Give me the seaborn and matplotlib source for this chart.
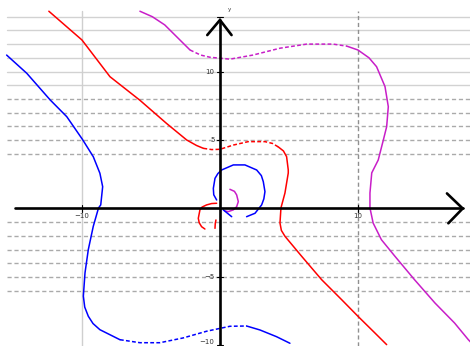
import numpy as np
import pandas as pd
import matplotlib
matplotlib.use("Agg")
import matplotlib.pyplot as plt
import seaborn as sns

sns.set_theme(style="white")
plt.rcParams["font.family"] = ["DejaVu Sans"]

BLUE = "#0000ff"
RED = "#ff0000"
MAGENTA = "#c81ec8"

# ---- curve traces (x, y) -------------------------------------------------
magenta_a_x = [-5.8, -4.9, -4.0, -3.0, -2.17]
magenta_a_y = [14.4, 14.0, 13.4, 12.4, 11.57]
magenta_b_x = [-2.17, -1.4, -0.72, 0.72, 2.39, 4.35, 6.28, 8.2, 9.2]
magenta_b_y = [11.57, 11.2, 11.04, 10.9, 11.2, 11.7, 12.0, 12.0, 11.85]
magenta_c_x = [9.2, 10.0, 10.8, 11.35, 11.96, 12.2, 12.08, 11.84, 11.47, 11.0, 10.87,
               10.87, 11.1, 11.7, 12.68, 14.1, 15.58, 17.0, 18.0, 18.4]
magenta_c_y = [11.85, 11.57, 11.0, 10.35, 8.9, 7.43, 5.97, 5.0, 3.54, 2.6, 1.13,
               0.04, -1.06, -2.28, -3.49, -5.2, -6.9, -8.36, -9.58, -10.0]
magenta_in_x = [0.72, 1.05, 1.21, 1.33, 1.21, 0.97, 0.6, 0.36]
magenta_in_y = [1.4, 1.25, 0.99, 0.5, 0.13, -0.1, -0.23, -0.18]

red_a_x = [-12.4, -10.0, -7.97, -5.8, -3.86, -2.41, -1.7, -1.2]
red_a_y = [14.4, 12.3, 9.62, 7.9, 6.2, 5.0, 4.6, 4.39]
red_b_x = [-1.2, -0.6, 0.0, 0.97, 2.05, 3.26, 3.8, 4.22]
red_b_y = [4.39, 4.3, 4.32, 4.63, 4.88, 4.88, 4.75, 4.5]
red_c_x = [4.22, 4.6, 4.83, 4.95, 4.95, 4.71, 4.42, 4.35, 4.45, 4.71, 5.92, 7.37, 8.82,
           10.0, 11.23, 12.08]
red_c_y = [4.5, 4.2, 3.78, 2.81, 2.59, 1.13, 0.04, -1.06, -1.6, -2.03, -3.49, -5.2, -6.66,
           -7.87, -9.09, -9.94]
red_in_x = [-0.24, -0.6, -0.97, -1.3, -1.45, -1.57, -1.5, -1.33, -1.09]
red_in_y = [0.38, 0.36, 0.26, 0.1, -0.1, -0.72, -1.05, -1.33, -1.5]
red_in2_x = [-0.29, -0.34, -0.36]
red_in2_y = [-0.84, -1.1, -1.45]

blue_a_x = [-15.46, -14.0, -12.3, -11.1, -9.97, -9.18, -8.7, -8.5, -8.64,
            -8.8, -9.18, -9.54, -9.78, -9.9, -9.8, -9.54, -9.2, -8.7, -7.25]
blue_a_y = [11.2, 9.87, 7.92, 6.7, 5.05, 3.78, 2.57, 1.59, 0.26,
            0.04, -1.3, -3.0, -4.7, -6.4, -7.2, -7.87, -8.4, -8.85, -9.58]
blue_b_x = [-7.25, -5.8, -4.35, -2.66, -0.96, 0.72, 1.93]
blue_b_y = [-9.58, -9.8, -9.8, -9.45, -8.96, -8.6, -8.58]
blue_c_x = [1.93, 2.9, 4.1, 5.07]
blue_c_y = [-8.58, -8.87, -9.36, -9.84]
blue_in_x = [-0.24, -0.45, -0.48, -0.36, -0.15, 0.12, 0.97, 1.81, 2.66, 3.0, 3.14, 3.26,
             3.18, 3.02, 2.54, 1.93]
blue_in_y = [0.62, 1.0, 1.47, 2.2, 2.55, 2.81, 3.18, 3.18, 2.81, 2.4, 1.96, 1.23,
             0.7, 0.26, -0.35, -0.6]
blue_in2_x = [0.24, 0.85]
blue_in2_y = [-0.1, -0.6]

pieces = [
    (magenta_a_x, magenta_a_y, MAGENTA, "solid"),
    (magenta_b_x, magenta_b_y, MAGENTA, "sparse"),
    (magenta_c_x, magenta_c_y, MAGENTA, "solid"),
    (magenta_in_x, magenta_in_y, MAGENTA, "solid"),
    (red_a_x, red_a_y, RED, "solid"),
    (red_b_x, red_b_y, RED, "sparse"),
    (red_c_x, red_c_y, RED, "solid"),
    (red_in_x, red_in_y, RED, "solid"),
    (red_in2_x, red_in2_y, RED, "solid"),
    (blue_a_x, blue_a_y, BLUE, "solid"),
    (blue_b_x, blue_b_y, BLUE, "sparse"),
    (blue_c_x, blue_c_y, BLUE, "solid"),
    (blue_in_x, blue_in_y, BLUE, "solid"),
    (blue_in2_x, blue_in2_y, BLUE, "solid"),
]

# grid rows
solid_rows = [9, 10, 11, 12, 13, 14]
dashed_rows = [4, 5, 6, 7, 8, -1, -2, -3, -4, -5, -6]

x_tick_vals = [-10, 10]
x_tick_labels = ["\u221210", "10"]
y_tick_vals = [10, 5, -5, -10]
y_tick_labels = ["10", "5", "\u22125", "\u221210"]

fig = plt.figure(figsize=(4.7, 3.46), dpi=100)
ax = fig.add_axes([0, 0, 1, 1])
x0, x1 = -15.94, 18.12
y0, y1 = -10.04, 15.22
ax.set_xlim(x0, x1)
ax.set_ylim(y0, y1)
ax.axis("off")

# background grid
for r in solid_rows:
    ax.plot([-15.45, x1], [r, r], color="#d2d2d2", lw=1.0, zorder=1)
for r in dashed_rows:
    ax.plot([-15.45, x1], [r, r], color="#aaaaaa", lw=1.0, ls=(0, (3, 2)), zorder=1)
ax.plot([-10, -10], [y0, 14.4], color="#cfcfcf", lw=1.0, zorder=1)
ax.plot([10, 10], [y0, 14.4], color="#909090", lw=1.0, ls=(0, (3, 2)), zorder=1)

# curves
for px, py, col, kind in pieces:
    df = pd.DataFrame({"x": px, "y": py})
    ls = "-" if kind == "solid" else (0, (2.5, 1.5))
    sns.lineplot(data=df, x="x", y="y", sort=False, estimator=None, color=col,
                 lw=1.1, ls=ls, ax=ax, zorder=3)

# axes with open arrowheads
ax.plot([-14.86, 17.59], [0, 0], color="black", lw=1.9, zorder=4)
ax.plot([0, 0], [y0, 13.76], color="black", lw=1.9, zorder=4)
ax.plot([16.45, 17.59, 16.55], [1.1, 0, -1.08], color="black", lw=1.9, zorder=4,
        solid_joinstyle="miter")
ax.plot([-0.92, 0, 0.84], [12.66, 13.76, 12.66], color="black", lw=1.9, zorder=4,
        solid_joinstyle="miter")

# ticks and labels
for v, lab in zip(x_tick_vals, x_tick_labels):
    ax.plot([v, v], [-0.25, 0.25], color="black", lw=0.8, zorder=4)
    ax.text(v, -0.35, lab, ha="center", va="top", fontsize=5, color="#333333")
for v, lab in zip(y_tick_vals, y_tick_labels):
    ax.plot([-0.25, 0.25], [v, v], color="black", lw=0.8, zorder=4)
    yy = max(v, -9.72)
    ax.text(-0.4, yy, lab, ha="right", va="center", fontsize=5, color="#333333")
ax.plot([-0.25, 0.25], [14, 14], color="black", lw=0.8, zorder=4)
ax.text(0.55, 14.55, "y", ha="left", va="center", fontsize=4, color="#333333")

fig.savefig("out.png", dpi=100)
